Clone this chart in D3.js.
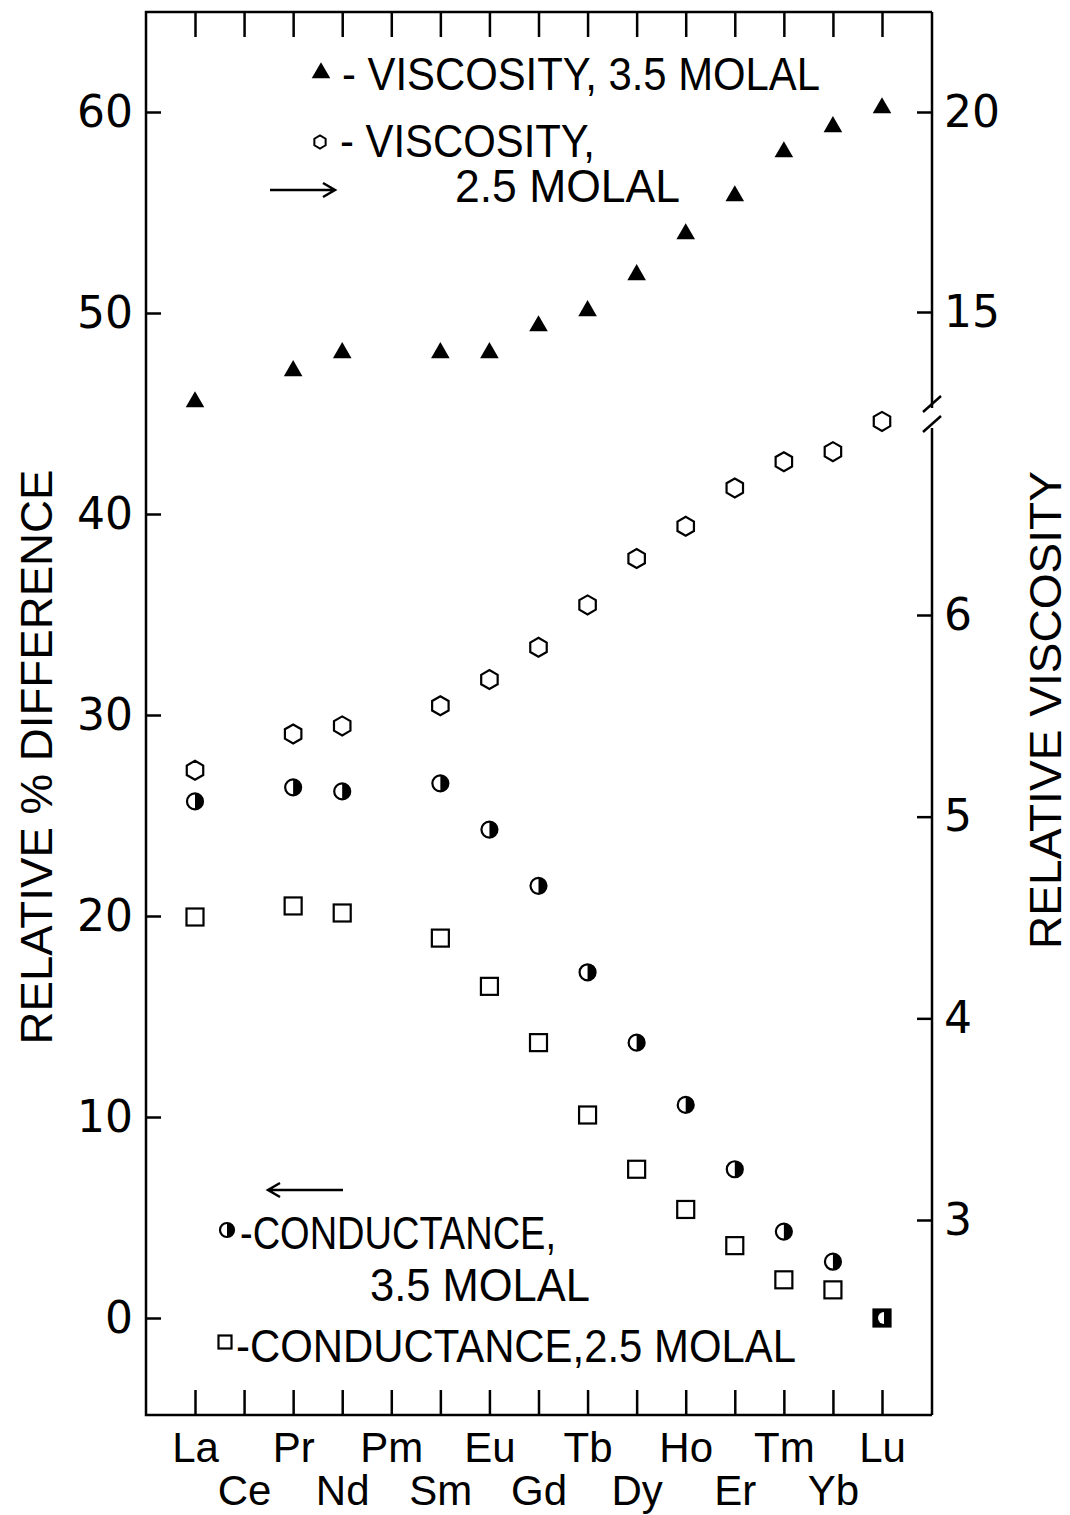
<!DOCTYPE html>
<html>
<head>
<meta charset="utf-8">
<script src="https://cdn.jsdelivr.net/npm/d3@7"></script>
<style>
  body { margin: 0; background: #fff; }
  svg text { fill: #000; }
</style>
</head>
<body>
<svg id="chart"></svg>
<script>
// Rare-earth series: relative % difference (left) and relative viscosity (right)

const elements = ["La", "Ce", "Pr", "Nd", "Pm", "Sm", "Eu", "Gd", "Tb", "Dy", "Ho", "Er", "Tm", "Yb", "Lu"];

// relative viscosity, 3.5 molal (upper right scale)
const visc35 = [12.75, null, 13.53, 13.98, null, 13.98, 13.98, 14.65, 15.03, 15.93, 16.95, 17.9, 19.0, 19.63, 20.1];
// relative viscosity, 2.5 molal (lower right scale)
const visc25 = [5.23, null, 5.41, 5.45, null, 5.55, 5.68, 5.84, 6.05, 6.28, 6.44, 6.63, 6.76, 6.81, 6.96];
// conductance, 3.5 molal (left scale, %)
const cond35 = [25.7, null, 26.4, 26.2, null, 26.6, 24.3, 21.5, 17.2, 13.7, 10.6, 7.4, 4.3, 2.8, 0];
// conductance, 2.5 molal (left scale, %)
const cond25 = [19.95, null, 20.5, 20.15, null, 18.9, 16.5, 13.7, 10.1, 7.4, 5.4, 3.6, 1.9, 1.4, 0];

const leftTicks = [0, 10, 20, 30, 40, 50, 60];
const rightUpperTicks = [15, 20];
const rightLowerTicks = [3, 4, 5, 6];

// Constants
const width = 1070;
const height = 1515;
const frame = { left: 146, right: 932, top: 12, bottom: 1415 };
const tickLen = 15;
const textFont = "'Liberation Sans Narrow', 'Liberation Sans', sans-serif";
const numFont = "'DejaVu Sans', sans-serif";

const svg = d3.select("#chart")
    .attr("width", width)
    .attr("height", height);

// Scales
const xScale = d3.scalePoint()
    .domain(elements)
    .range([195, 882]);

const yLeft = d3.scaleLinear()
    .domain([0, 60])
    .range([1318, 112]);

const yRightUpper = d3.scaleLinear()
    .domain([15, 20])
    .range([312, 112]);

const yRightLower = d3.scaleLinear()
    .domain([3, 6])
    .range([1220, 615]);

// Frame (top, bottom, left; right is drawn with a break)
svg.append("path")
    .attr("d", `M${frame.right},${frame.top}H${frame.left}V${frame.bottom}H${frame.right}`)
    .attr("fill", "none")
    .attr("stroke", "#000")
    .attr("stroke-width", 2.5);

svg.append("line")
    .attr("x1", frame.right).attr("x2", frame.right)
    .attr("y1", frame.top).attr("y2", 408)
    .attr("stroke", "#000").attr("stroke-width", 2.5);
svg.append("line")
    .attr("x1", frame.right).attr("x2", frame.right)
    .attr("y1", 428).attr("y2", frame.bottom)
    .attr("stroke", "#000").attr("stroke-width", 2.5);

// axis break marks
[404, 424].forEach(y => {
  svg.append("line")
      .attr("x1", frame.right - 9).attr("y1", y + 8)
      .attr("x2", frame.right + 9).attr("y2", y - 8)
      .attr("stroke", "#000").attr("stroke-width", 2.5);
});

// Axes
function styleAxis(g) {
  g.select(".domain").remove();
  g.selectAll(".tick line").attr("stroke", "#000").attr("stroke-width", 2.5);
}

svg.append("g")
    .attr("transform", `translate(0,${frame.top})`)
    .call(d3.axisTop(xScale).tickSize(-25).tickFormat(""))
    .call(styleAxis);

const xAxisG = svg.append("g")
    .attr("transform", `translate(0,${frame.bottom})`)
    .call(d3.axisBottom(xScale).tickSize(-25).tickPadding(0))
    .call(styleAxis);

xAxisG.selectAll(".tick text")
    .attr("font-family", textFont)
    .attr("font-size", 42)
    .attr("dy", null)
    .attr("y", (d, i) => i % 2 === 0 ? 47 : 90);

const leftAxisG = svg.append("g")
    .attr("transform", `translate(${frame.left},0)`)
    .call(d3.axisLeft(yLeft).tickValues(leftTicks).tickSize(-tickLen).tickPadding(13))
    .call(styleAxis);

leftAxisG.selectAll(".tick text")
    .attr("font-family", numFont)
    .attr("font-size", 44);

[[yRightUpper, rightUpperTicks], [yRightLower, rightLowerTicks]].forEach(([scale, ticks]) => {
  svg.append("g")
      .attr("transform", `translate(${frame.right},0)`)
      .call(d3.axisRight(scale).tickValues(ticks).tickFormat(d3.format("d"))
          .tickSize(-tickLen).tickPadding(12))
      .call(styleAxis)
    .selectAll(".tick text")
      .attr("font-family", numFont)
      .attr("font-size", 44);
});

// Axis titles
svg.append("text")
    .attr("transform", "translate(52,757) rotate(-90)")
    .attr("text-anchor", "middle")
    .attr("font-family", textFont)
    .attr("font-size", 44)
    .attr("textLength", 575)
    .attr("lengthAdjust", "spacingAndGlyphs")
    .text("RELATIVE % DIFFERENCE");

svg.append("text")
    .attr("transform", "translate(1061,710) rotate(-90)")
    .attr("text-anchor", "middle")
    .attr("font-family", textFont)
    .attr("font-size", 44)
    .attr("textLength", 478)
    .attr("lengthAdjust", "spacingAndGlyphs")
    .text("RELATIVE  VISCOSITY");

// Marker drawing helpers
const triangle = d3.symbol().type(d3.symbolTriangle).size(150);

function hexPath(r) {
  const pts = d3.range(6).map(k => {
    const a = Math.PI / 6 + k * Math.PI / 3;
    return [r * Math.cos(a), r * Math.sin(a)];
  });
  return "M" + pts.join("L") + "Z";
}

function halfCircle(g, r) {
  g.append("circle").attr("r", r).attr("fill", "#fff").attr("stroke", "#000").attr("stroke-width", 2.2);
  g.append("path")
      .attr("d", `M0,${-r}A${r},${r} 0 0 1 0,${r}Z`)
      .attr("fill", "#000");
}

function square(g, s) {
  g.append("rect")
      .attr("x", -s / 2).attr("y", -s / 2)
      .attr("width", s).attr("height", s)
      .attr("fill", "#fff").attr("stroke", "#000").attr("stroke-width", 2.2);
}

const idx = elements.map((e, i) => i);

// conductance 2.5 molal (squares)
svg.append("g").selectAll("g")
  .data(idx.filter(i => cond25[i] !== null))
  .enter().append("g")
    .attr("transform", i => `translate(${xScale(elements[i])},${yLeft(cond25[i])})`)
    .each(function() { square(d3.select(this), 17); });

// conductance 3.5 molal (half-filled circles)
svg.append("g").selectAll("g")
  .data(idx.filter(i => cond35[i] !== null))
  .enter().append("g")
    .attr("transform", i => `translate(${xScale(elements[i])},${yLeft(cond35[i])})`)
    .each(function(i) {
      const g = d3.select(this);
      if (cond35[i] === cond25[i]) {
        // overlapping points: filled square with a white half disc
        g.append("rect").attr("x", -9).attr("y", -9).attr("width", 18).attr("height", 18)
            .attr("rx", 2).attr("fill", "#000");
        g.append("path").attr("d", "M2,-6A6,6 0 0 0 2,6Z").attr("fill", "#fff");
      } else {
        halfCircle(g, 8);
      }
    });

// viscosity 2.5 molal (hexagons)
svg.append("g").selectAll("path")
  .data(idx.filter(i => visc25[i] !== null))
  .enter().append("path")
    .attr("d", hexPath(9.5))
    .attr("transform", i => `translate(${xScale(elements[i])},${yRightLower(visc25[i])})`)
    .attr("fill", "#fff")
    .attr("stroke", "#000")
    .attr("stroke-width", 2.2);

// viscosity 3.5 molal (triangles)
svg.append("g").selectAll("path")
  .data(idx.filter(i => visc35[i] !== null))
  .enter().append("path")
    .attr("d", triangle)
    .attr("transform", i => `translate(${xScale(elements[i])},${yRightUpper(visc35[i])})`)
    .attr("fill", "#000");

// Legend
function legendText(x, y, len, str) {
  svg.append("text")
      .attr("x", x).attr("y", y)
      .attr("font-family", textFont)
      .attr("font-size", 46)
      .attr("textLength", len)
      .attr("lengthAdjust", "spacingAndGlyphs")
      .text(str);
}

svg.append("path").attr("d", triangle)
    .attr("transform", "translate(321,73)").attr("fill", "#000");
legendText(342, 90, 478, "- VISCOSITY, 3.5 MOLAL");

svg.append("path").attr("d", hexPath(6.5))
    .attr("transform", "translate(320,142)")
    .attr("fill", "#fff").attr("stroke", "#000").attr("stroke-width", 2);
legendText(340, 157, 255, "- VISCOSITY,");
legendText(455, 202, 225, "2.5 MOLAL");

// arrows
function arrow(x1, x2, y) {
  const dir = Math.sign(x2 - x1);
  svg.append("path")
      .attr("d", `M${x1},${y}H${x2}M${x2 - dir * 12},${y - 7}L${x2},${y}L${x2 - dir * 12},${y + 7}`)
      .attr("fill", "none")
      .attr("stroke", "#000")
      .attr("stroke-width", 2.5);
}
arrow(270, 335, 190);
arrow(343, 268, 1190);

const condLeg = svg.append("g").attr("transform", "translate(227,1230)");
halfCircle(condLeg, 7);
legendText(240, 1249, 316, "-CONDUCTANCE,");
legendText(370, 1301, 220, "3.5 MOLAL");

const sqLeg = svg.append("g").attr("transform", "translate(225,1342)");
square(sqLeg, 13);
legendText(236, 1362, 560, "-CONDUCTANCE,2.5 MOLAL");
</script>
</body>
</html>
